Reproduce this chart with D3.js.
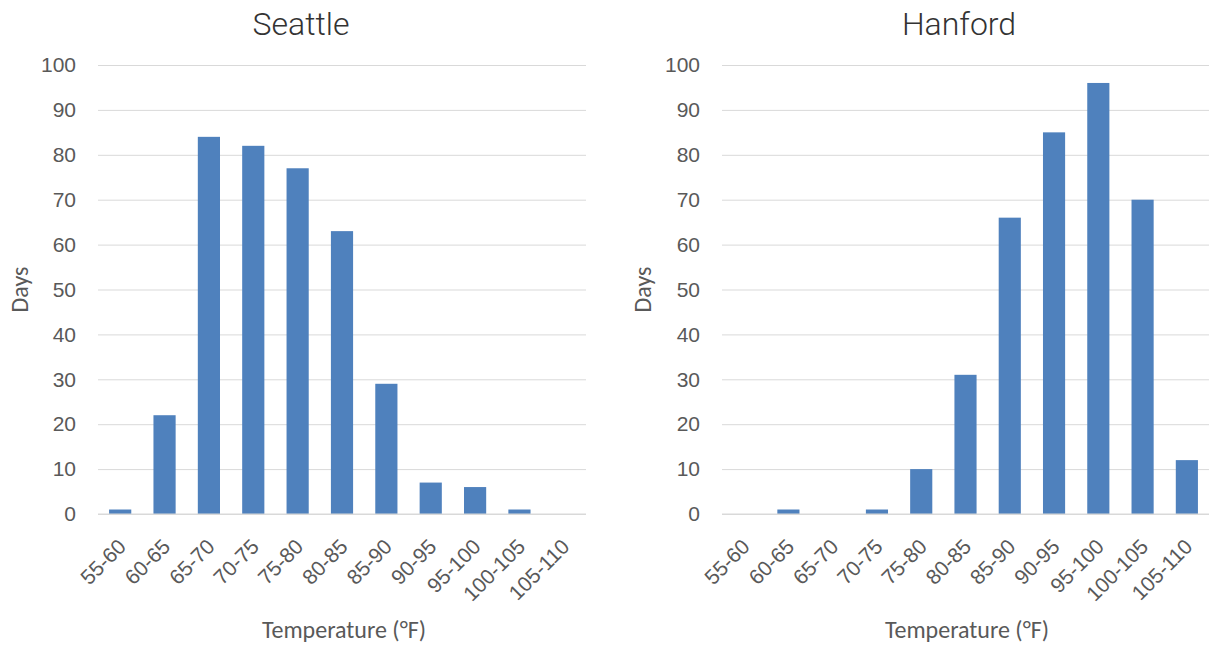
<!DOCTYPE html>
<html>
<head>
<meta charset="utf-8">
<script src="https://cdn.jsdelivr.net/npm/d3@7"></script>
<style>
  html, body { margin: 0; padding: 0; background: #fff; }
  svg { display: block; font-family: Carlito, Calibri, Lato, "Open Sans", sans-serif; }
  .panel-title { font-family: Roboto, Lato, sans-serif; font-weight: 300; }
</style>
</head>
<body>
<svg id="chart" width="1213" height="647"></svg>
<script>
// Temperature bins shared by both histograms
const bins = ["55-60", "60-65", "65-70", "70-75", "75-80", "80-85", "85-90", "90-95", "95-100", "100-105", "105-110"];
// Number of days falling in each bin
const seattleDays = [1, 22, 84, 82, 77, 63, 29, 7, 6, 1, 0];
const hanfordDays = [0, 1, 0, 1, 10, 31, 66, 85, 96, 70, 12];
const yTicks = [0, 10, 20, 30, 40, 50, 60, 70, 80, 90, 100];

const svg = d3.select("#chart");
const textColor = "#595959";
const barColor = "#4F81BD";
const gridColor = "#D9D9D9";

function drawPanel(opts) {
  const { title, values, left, right, top, bottom, titleX, yLabelX, xLabelX } = opts;
  const g = svg.append("g");

  const x = d3.scaleBand().domain(bins).range([left, right]).paddingInner(0.5).paddingOuter(0.25);
  const y = d3.scaleLinear().domain([0, 100]).range([bottom, top]);

  // horizontal gridlines with value labels
  const yAxis = d3.axisLeft(y).tickValues(yTicks).tickSize(-(right - left)).tickPadding(22);
  const ya = g.append("g").attr("transform", `translate(${left},0)`).call(yAxis);
  ya.select(".domain").remove();
  ya.selectAll(".tick line").attr("stroke", gridColor).attr("stroke-width", 1);
  ya.selectAll(".tick text").attr("fill", textColor).style("font-size", "21px");

  // bars
  g.append("g").selectAll("rect")
    .data(values.map((v, i) => ({ bin: bins[i], v })))
    .join("rect")
    .attr("x", d => x(d.bin))
    .attr("width", x.bandwidth())
    .attr("y", d => y(d.v))
    .attr("height", d => y(0) - y(d.v))
    .attr("fill", barColor);

  // category labels, rotated
  const xAxis = d3.axisBottom(x).tickSize(0).tickPadding(0);
  const xa = g.append("g").attr("transform", `translate(0,${bottom})`).call(xAxis);
  xa.select(".domain").remove();
  xa.selectAll(".tick text")
    .attr("fill", textColor)
    .style("font-size", "21px")
    .attr("text-anchor", "end")
    .attr("y", 0)
    .attr("dy", null)
    .attr("transform", "translate(7,34) rotate(-45)");

  // baseline gridline drawn over bars
  g.append("line")
    .attr("x1", left).attr("x2", right)
    .attr("y1", y(0)).attr("y2", y(0))
    .attr("stroke", gridColor).attr("stroke-width", 1);

  g.append("text")
    .attr("class", "panel-title")
    .attr("x", titleX).attr("y", 35)
    .attr("text-anchor", "middle")
    .attr("fill", "#333333")
    .style("font-size", "32px")
    .text(title);

  g.append("text")
    .attr("transform", `translate(${yLabelX},${(top + bottom) / 2}) rotate(-90)`)
    .attr("text-anchor", "middle")
    .attr("fill", textColor)
    .style("font-size", "24px")
    .text("Days");

  g.append("text")
    .attr("x", xLabelX).attr("y", 638)
    .attr("text-anchor", "middle")
    .attr("fill", textColor)
    .style("font-size", "24px")
    .text("Temperature (°F)");
}

drawPanel({ title: "Seattle", values: seattleDays, left: 98, right: 586, top: 65, bottom: 514, titleX: 301, yLabelX: 28, xLabelX: 344 });
drawPanel({ title: "Hanford", values: hanfordDays, left: 722, right: 1209, top: 65, bottom: 514, titleX: 959, yLabelX: 651, xLabelX: 967 });
</script>
</body>
</html>
